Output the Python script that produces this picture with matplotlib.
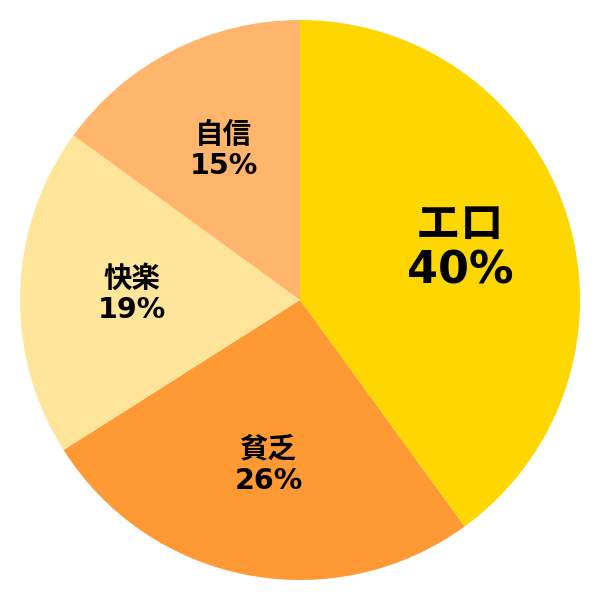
import numpy as np
import matplotlib
matplotlib.use("Agg")
import matplotlib.pyplot as plt

labels = ['エロ', '貧乏', '快楽', '自信']
values = [40, 26, 19, 15]
colors = ['#FFD700', '#FF9933', '#FFE599', '#FFB56B']

plt.rcParams['font.family'] = ['DejaVu Sans', 'Noto Sans CJK JP']

fig = plt.figure(figsize=(6, 6), dpi=100)
ax = fig.add_axes([0, 0, 1, 1])
wedges, _ = ax.pie(values, colors=colors, startangle=90, counterclock=False,
                   radius=1.0, wedgeprops=dict(linewidth=0))
ax.set_xlim(-300 / 280, 300 / 280)
ax.set_ylim(-300 / 280, 300 / 280)
ax.set_aspect('equal')
ax.axis('off')

for i, w in enumerate(wedges):
    ang = np.deg2rad((w.theta1 + w.theta2) / 2)
    x = 0.6 * np.cos(ang)
    y = 0.6 * np.sin(ang)
    if i == 0:
        fs, gap = 32, 0.082
    else:
        fs, gap = 20.5, 0.056
    ax.text(x, y + gap, labels[i], ha='center', va='center',
            fontsize=fs, fontweight='bold')
    ax.text(x, y - gap, f'{values[i]}%', ha='center', va='center',
            fontsize=fs, fontweight='bold')

fig.savefig('out.png', dpi=100)
